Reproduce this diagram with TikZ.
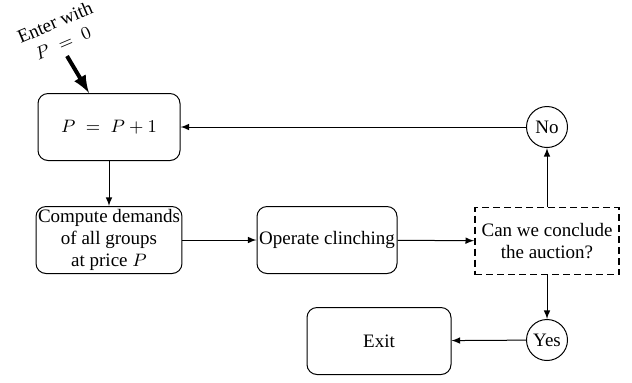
\documentclass[tikz,border=0pt]{standalone}
\usepackage{fontspec}
\setmainfont{Liberation Serif}
\usetikzlibrary{arrows,positioning,calc}
\begin{document}
\begin{tikzpicture}[x=1pt,y=1pt,
  font=\fontsize{9.5}{11}\selectfont,
  rbox/.style={draw, rounded corners=5pt, minimum width=71pt, minimum height=33.5pt, align=center, inner sep=1pt, line width=0.5pt},
  dbox/.style={draw, dash pattern=on 3.5pt off 2pt, line width=0.9pt, minimum width=72pt, minimum height=33.5pt, align=center, inner sep=1pt},
  rnd/.style={draw, circle, minimum size=20.5pt, inner sep=0pt, line width=0.5pt},
  conn/.style={-latex, line width=0.5pt}]
\useasboundingbox (0,0) rectangle (316,-191);
\node[rbox] (pbox) at (54.5,-63.5) {$P \;=\; P+1$};
\node[rbox] (comp) at (54.5,-120) {Compute demands\\of all groups\\at price $P$};
\node[rbox, minimum width=70pt] (oper) at (163.5,-120) {Operate clinching};
\node[dbox] (dash) at (273.5,-120.5) {Can we conclude\\the auction?};
\node[rnd] (no) at (273.5,-63.5) {No};
\node[rnd] (yes) at (273.5,-170) {Yes};
\node[rbox, minimum width=72pt] (exit) at (189.5,-170.5) {Exit};
\node[rotate=23, inner sep=0pt] (enter1) at (27.5,-11) {Enter with};
\node[rotate=23, inner sep=0pt] (enter2) at (31.5,-21.5) {$P\;=\;0$};
\coordinate (estart) at (33.5,-28);
\coordinate (eend) at ($(pbox.north)+(-10,0)$);
\draw[-latex, line width=2pt] (estart) -- (eend);
\draw[conn] (pbox) -- (comp);
\draw[conn] (comp) -- (oper);
\draw[conn] (oper) -- (dash);
\draw[conn] (dash) -- (no);
\draw[conn] (no) -- (pbox);
\draw[conn] (dash) -- (yes);
\draw[conn] (yes) -- (exit);
\end{tikzpicture}
\end{document}
